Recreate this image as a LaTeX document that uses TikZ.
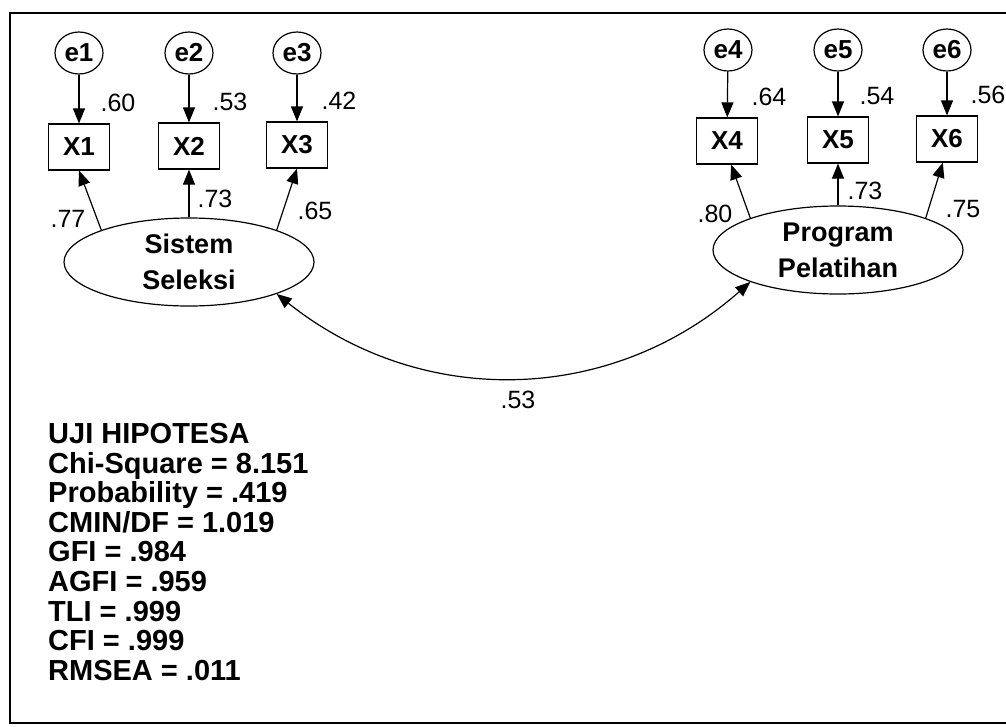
\documentclass[tikz,border=0pt]{standalone}
\usepackage{fontspec}
\setmainfont{Liberation Sans}
\usetikzlibrary{arrows.meta, positioning, shapes.geometric}

\begin{document}
\begin{tikzpicture}[x=1pt, y=-1pt,
    errnode/.style={draw, ellipse, line width=1.2pt, minimum width=48pt, minimum height=42pt, inner sep=0pt, font=\fontsize{26}{28}\selectfont\bfseries},
    obsbox/.style={draw, rectangle, line width=1.2pt, minimum width=61pt, minimum height=46pt, inner sep=0pt, font=\fontsize{26}{28}\selectfont\bfseries},
    latent/.style={draw, ellipse, line width=1.2pt, minimum width=250pt, minimum height=88pt, inner sep=0pt, align=center, font=\fontsize{27}{36}\selectfont\bfseries},
    coef/.style={inner sep=0pt, font=\fontsize{25}{27}\selectfont},
    regpath/.style={-{Triangle[length=15pt,width=12pt]}, line width=1.2pt},
    covpath/.style={{Triangle[length=15pt,width=12pt]}-{Triangle[length=15pt,width=12pt]}, line width=1.2pt}
]
\useasboundingbox (0,0) rectangle (1006,726);
\draw[line width=2pt] (1006,13) -- (10,13) -- (10,723) -- (1006,723);

% Sistem Seleksi
\node[errnode] (e1) at (79,53) {e1};
\node[errnode] (e2) at (189,53) {e2};
\node[errnode] (e3) at (297,53) {e3};
\node[obsbox] (X1) at (79,147) {X1};
\node[obsbox] (X2) at (189,146) {X2};
\node[obsbox] (X3) at (297,145) {X3};
\node[latent] (sis) at (189,262) {Sistem\\Seleksi};

\draw[regpath] (e1) -- (X1);
\draw[regpath] (e2) -- (X2);
\draw[regpath] (e3) -- (X3);
\draw[regpath] (sis.160) -- (X1.south);
\draw[regpath] (sis.north) -- (X2.south);
\draw[regpath] (sis.20) -- (X3.south);

\node[coef] (r1) at (118,103) {.60};
\node[coef] (r2) at (230,102) {.53};
\node[coef] (r3) at (339,101) {.42};
\node[coef] (l1) at (68,219) {.77};
\node[coef] (l2) at (215,199) {.73};
\node[coef] (l3) at (315,211) {.65};

% Program Pelatihan
\node[errnode] (e4) at (728,50) {e4};
\node[errnode] (e5) at (838,50) {e5};
\node[errnode] (e6) at (947,50) {e6};
\node[obsbox] (X4) at (727,141) {X4};
\node[obsbox] (X5) at (838,140) {X5};
\node[obsbox] (X6) at (947,139) {X6};
\node[latent] (prog) at (838,250) {Program\\Pelatihan};

\draw[regpath] (e4) -- (X4);
\draw[regpath] (e5) -- (X5);
\draw[regpath] (e6) -- (X6);
\draw[regpath] (prog.160) -- (X4.-80);
\draw[regpath] (prog.north) -- (X5.south);
\draw[regpath] (prog.20) -- (X6.-100);

\node[coef] (r4) at (769,97) {.64};
\node[coef] (r5) at (877,96) {.54};
\node[coef] (r6) at (988,95) {.56};
\node[coef] (l4) at (715,214) {.80};
\node[coef] (l5) at (865,191) {.73};
\node[coef] (l6) at (963,209) {.75};

% korelasi
\draw[covpath] (sis.-20) to[bend right=40] (prog.-160);
\node[coef] (c1) at (518,400) {.53};

\node[anchor=north west, inner sep=0pt, align=left, font=\fontsize{29}{29.6}\selectfont\bfseries] (uji) at (48,423)
  {UJI HIPOTESA\\Chi-Square = 8.151\\Probability = .419\\CMIN/DF = 1.019\\GFI = .984\\AGFI = .959\\TLI = .999\\CFI = .999\\RMSEA = .011};
\end{tikzpicture}
\end{document}
